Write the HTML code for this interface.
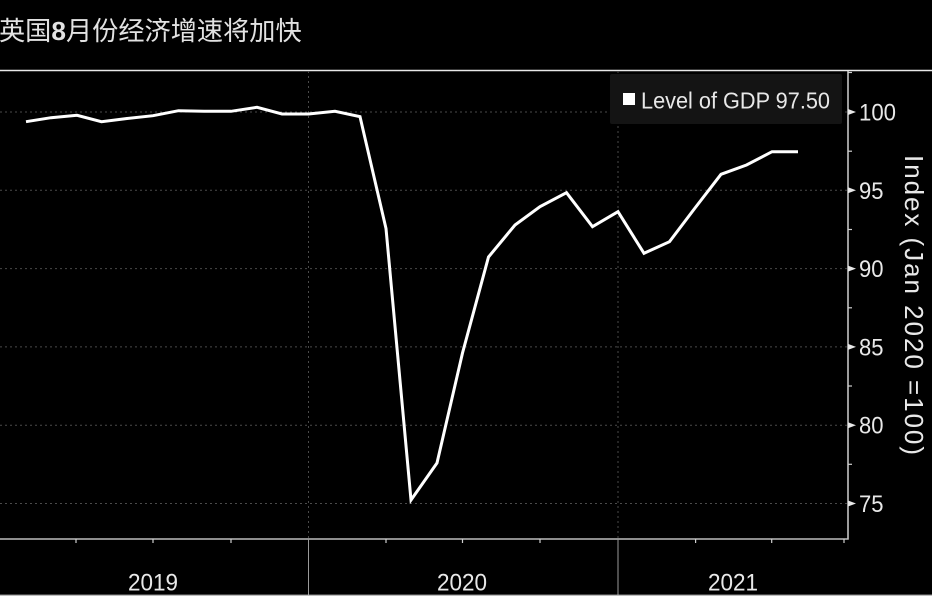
<!DOCTYPE html>
<html>
<head>
<meta charset="utf-8">
<style>
html,body{margin:0;padding:0;background:#000;}
body{width:932px;height:596px;overflow:hidden;}
svg{display:block;}
</style>
</head>
<body>
<svg width="932" height="596" viewBox="0 0 932 596" xmlns="http://www.w3.org/2000/svg">
<rect x="0" y="0" width="932" height="596" fill="#000"/>
<!-- Title -->
<text x="-1" y="40" font-family="'Liberation Sans','Noto Sans CJK SC',sans-serif" font-size="26.2" fill="#e2e2e2">英国<tspan font-weight="bold">8</tspan>月份经济增速将加快</text>

<!-- top border -->
<line x1="0" y1="70.5" x2="932" y2="70.5" stroke="#e8e8e8" stroke-width="1.5"/>

<!-- horizontal gridlines -->
<g stroke="#4a4a4a" stroke-width="1" stroke-dasharray="2,3">
<line x1="0" y1="112" x2="848" y2="112"/>
<line x1="0" y1="190.3" x2="848" y2="190.3"/>
<line x1="0" y1="268.6" x2="848" y2="268.6"/>
<line x1="0" y1="346.9" x2="848" y2="346.9"/>
<line x1="0" y1="425.2" x2="848" y2="425.2"/>
<line x1="0" y1="503.5" x2="848" y2="503.5"/>
<line x1="308.5" y1="71" x2="308.5" y2="539"/>
<line x1="618" y1="71" x2="618" y2="539"/>
</g>

<!-- legend box -->
<rect x="610" y="74" width="232" height="50" fill="#141414" rx="2"/>
<rect x="623" y="93" width="12" height="12" fill="#fff"/>
<text x="641" y="108.5" font-family="'Liberation Sans',sans-serif" font-size="23.5" fill="#e8e8e8" textLength="189" lengthAdjust="spacingAndGlyphs">Level of GDP 97.50</text>

<!-- data line -->
<polyline fill="none" stroke="#fff" stroke-width="3" stroke-linejoin="miter" stroke-linecap="butt"
points="26,121.7 51,117.7 77,115.3 101.5,121.7 127,118.5 153,115.7 178.5,110.7 204,111.2 231,111.3 257,107.3 282,114 308.5,114 335,111.3 360,116.7 386,228.5 411,500 437,463 462.5,353 488.5,257 515,225 540,206.7 566.5,192.7 592.5,226.7 618,211.7 644,253.3 669.5,241.7 695,208 721,174.3 746.5,165 772,151.7 798,151.7"/>

<!-- right axis -->
<line x1="848" y1="71" x2="848" y2="539.5" stroke="#cfcfcf" stroke-width="1.5"/>
<!-- bottom axis -->
<line x1="0" y1="539" x2="848.7" y2="539" stroke="#bdbdbd" stroke-width="1.5"/>

<!-- minor y ticks -->
<g stroke="#cfcfcf" stroke-width="1.2">
<line x1="848" y1="72.5" x2="852" y2="72.5"/>
<line x1="848" y1="151.2" x2="852" y2="151.2"/>
<line x1="848" y1="229.5" x2="852" y2="229.5"/>
<line x1="848" y1="307.8" x2="852" y2="307.8"/>
<line x1="848" y1="386" x2="852" y2="386"/>
<line x1="848" y1="464.3" x2="852" y2="464.3"/>
</g>
<!-- major tick triangles -->
<g fill="#e8e8e8">
<polygon points="848,109 856,112 848,115"/>
<polygon points="848,187.3 856,190.3 848,193.3"/>
<polygon points="848,265.6 856,268.6 848,271.6"/>
<polygon points="848,343.9 856,346.9 848,349.9"/>
<polygon points="848,422.2 856,425.2 848,428.2"/>
<polygon points="848,500.5 856,503.5 848,506.5"/>
</g>
<!-- y labels -->
<g font-family="'Liberation Sans',sans-serif" font-size="24" fill="#e8e8e8" lengthAdjust="spacingAndGlyphs">
<text x="859" y="120.5" textLength="37" lengthAdjust="spacingAndGlyphs">100</text>
<text x="859" y="198.8" textLength="24.5" lengthAdjust="spacingAndGlyphs">95</text>
<text x="859" y="277.1" textLength="24.5" lengthAdjust="spacingAndGlyphs">90</text>
<text x="859" y="355.4" textLength="24.5" lengthAdjust="spacingAndGlyphs">85</text>
<text x="859" y="433.7" textLength="24.5" lengthAdjust="spacingAndGlyphs">80</text>
<text x="859" y="512" textLength="24.5" lengthAdjust="spacingAndGlyphs">75</text>
</g>
<!-- axis title -->
<text transform="translate(905,305) rotate(90)" text-anchor="middle" font-family="'Liberation Sans',sans-serif" font-size="26" fill="#e8e8e8" textLength="300" lengthAdjust="spacing">Index (Jan 2020 =100)</text>

<!-- bottom x ticks -->
<g stroke="#cfcfcf" stroke-width="1.2">
<line x1="76" y1="539" x2="76" y2="543"/>
<line x1="153" y1="539" x2="153" y2="543"/>
<line x1="231" y1="539" x2="231" y2="543"/>
<line x1="386" y1="539" x2="386" y2="543"/>
<line x1="462.5" y1="539" x2="462.5" y2="543"/>
<line x1="540" y1="539" x2="540" y2="543"/>
<line x1="695.6" y1="539" x2="695.6" y2="543"/>
<line x1="771.7" y1="539" x2="771.7" y2="543"/>
<line x1="844" y1="539" x2="844" y2="543"/>
</g>
<!-- year dividers -->
<line x1="308.5" y1="539" x2="308.5" y2="596" stroke="#9a9a9a" stroke-width="1"/>
<line x1="618" y1="539" x2="618" y2="596" stroke="#9a9a9a" stroke-width="1"/>
<!-- bottom line -->
<line x1="0" y1="595.3" x2="932" y2="595.3" stroke="#bdbdbd" stroke-width="1.4"/>

<!-- year labels -->
<g font-family="'Liberation Sans',sans-serif" font-size="24" fill="#e8e8e8" text-anchor="middle">
<text x="153" y="590.5" textLength="50" lengthAdjust="spacingAndGlyphs">2019</text>
<text x="462" y="590.5" textLength="50" lengthAdjust="spacingAndGlyphs">2020</text>
<text x="733" y="590.5" textLength="50" lengthAdjust="spacingAndGlyphs">2021</text>
</g>
</svg>
</body>
</html>
